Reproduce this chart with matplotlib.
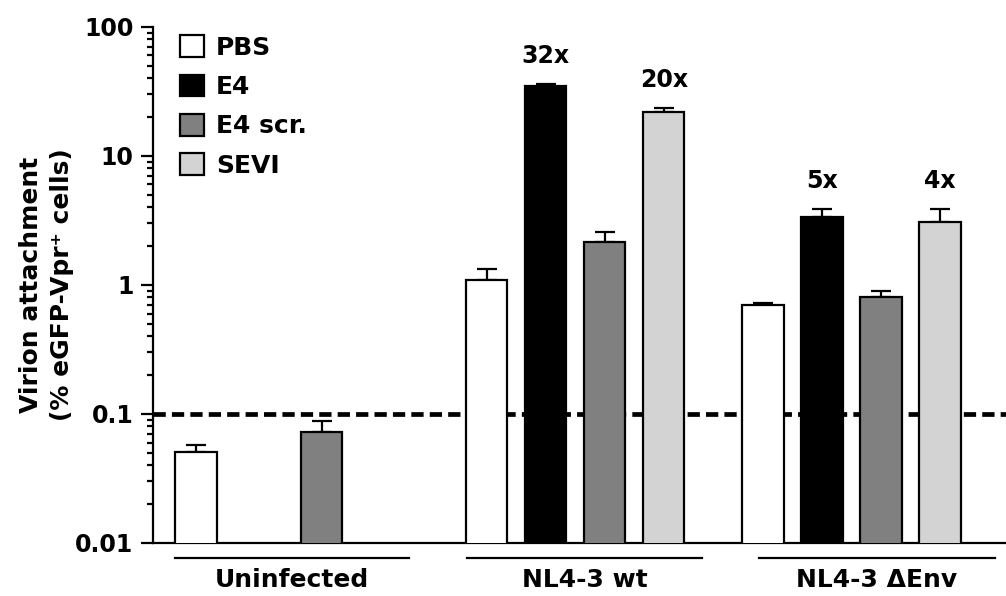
import matplotlib
matplotlib.use("Agg")
import matplotlib.pyplot as plt
from matplotlib.patches import Patch
import matplotlib.transforms as mtransforms

plt.rcParams["font.family"] = ["DejaVu Sans"]
plt.rcParams["font.weight"] = "bold"

# ── Data ──────────────────────────────────────────────────────
treatments = ["PBS", "E4", "E4 scr.", "SEVI"]
colors = ["#ffffff", "#000000", "#808080", "#d3d3d3"]

groups = ["Uninfected", "NL4-3 wt", "NL4-3 \u0394Env"]

# per group: treatment index, x position, mean, upper error
unin_idx = [0, 2]
unin_x = [0.73, 2.86]
unin_mean = [0.051, 0.072]
unin_err = [0.006, 0.016]

wt_idx = [0, 1, 2, 3]
wt_x = [5.66, 6.66, 7.66, 8.66]
wt_mean = [1.09, 35.0, 2.15, 21.9]
wt_err = [0.24, 1.0, 0.43, 1.6]

denv_idx = [0, 1, 2, 3]
denv_x = [10.34, 11.34, 12.34, 13.34]
denv_mean = [0.70, 3.37, 0.81, 3.07]
denv_err = [0.03, 0.51, 0.09, 0.81]

fold_labels = [("32x", 1, 1), ("20x", 1, 3), ("5x", 2, 1), ("4x", 2, 3)]
group_spans = [(0.37, 4.34), (5.32, 9.31), (10.27, 14.27)]
threshold = 0.1

# ── Figure ────────────────────────────────────────────────────
fig = plt.figure(figsize=(10.06, 5.96), dpi=100)
ax = fig.add_axes([0.152, 0.089, 0.848, 0.866])

series = [(unin_idx, unin_x, unin_mean, unin_err),
          (wt_idx, wt_x, wt_mean, wt_err),
          (denv_idx, denv_x, denv_mean, denv_err)]

ax.axhline(threshold, color="black", lw=3.4, ls=(0, (2.6, 1.3)), zorder=1)

for idx, xs, means, errs in series:
    for i, x, m, e in zip(idx, xs, means, errs):
        ax.bar(x, m, width=0.7, color=colors[i], edgecolor="black",
               linewidth=1.6, zorder=3)
        ax.errorbar(x, m, yerr=[[0], [e]], fmt="none", ecolor="black",
                    elinewidth=1.6, capsize=7, capthick=1.6, zorder=2)

for txt, g, t in fold_labels:
    idx, xs, means, errs = series[g]
    k = idx.index(t)
    ax.annotate(txt, (xs[k], means[k] + errs[k]), xytext=(0, 20),
                textcoords="offset points", ha="center", va="center",
                fontsize=17, fontweight="bold")

ax.set_yscale("log")
ax.set_ylim(0.01, 100)
ax.set_xlim(0, 14.46)
ax.set_yticks([0.01, 0.1, 1, 10, 100])
ax.set_yticklabels(["0.01", "0.1", "1", "10", "100"])
ax.tick_params(axis="y", which="major", direction="out", length=9,
               width=1.6, labelsize=17, pad=5)
ax.tick_params(axis="y", which="minor", direction="out", length=4.5,
               width=1.6)
ax.set_xticks([])
for s in ["top", "right"]:
    ax.spines[s].set_visible(False)
for s in ["left", "bottom"]:
    ax.spines[s].set_linewidth(1.6)

ax.set_ylabel("Virion attachment\n(% eGFP-Vpr\u207a cells)", fontsize=18,
              fontweight="bold", linespacing=1.4)
ax.yaxis.set_label_coords(-0.092, 0.5)

# group underlines and labels
trans = mtransforms.blended_transform_factory(ax.transData, ax.transAxes)
for (x0, x1), name in zip(group_spans, groups):
    ax.plot([x0, x1], [-0.029, -0.029], color="black", lw=1.6,
            transform=trans, clip_on=False)
    ax.text((x0 + x1) / 2, -0.072, name, transform=trans, ha="center",
            va="center", fontsize=18, fontweight="bold")

handles = [Patch(facecolor=c, edgecolor="black", linewidth=1.6) for c in colors]
ax.legend(handles, treatments, loc="upper left", bbox_to_anchor=(0.02, 1.003),
          frameon=False, fontsize=18, handlelength=0.95, handleheight=0.95,
          handletextpad=0.5, labelspacing=0.6, borderaxespad=0)

fig.savefig("out.png", dpi=100)
